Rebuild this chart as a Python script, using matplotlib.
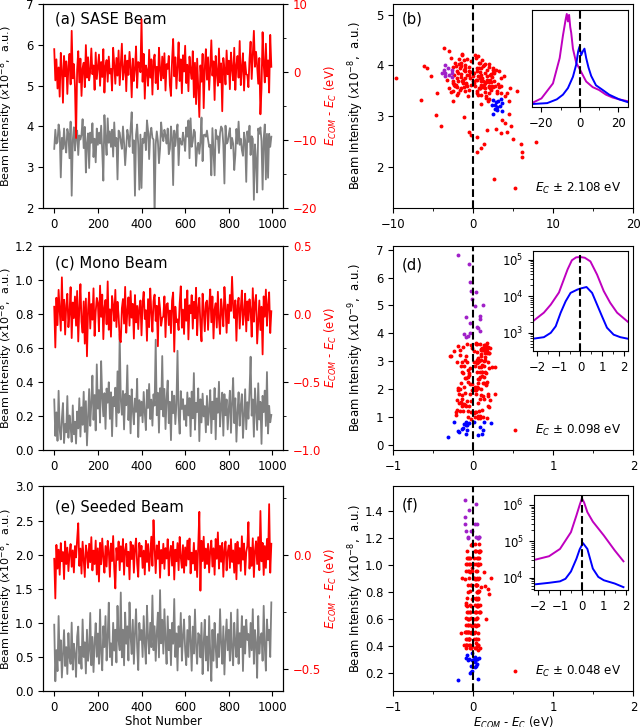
import numpy as np
import matplotlib.pyplot as plt
from matplotlib.ticker import MultipleLocator

# shot index (every 5th shot is plotted)
shots = np.arange(0, 1000, 5)

# SASE beam: E_COM - E_C (eV) and intensity (x1e-8)
sase_e = [3.4, -1.2, 1.9, -2.4, 0.7, -3.6, 2.85, 0.3, -4.5, 2.4, -0.6, 1.6, -3.2, 0.9, 2.7, -1.8, 6.1, -0.9, 1.2, -2.1,
          -9.7, 0.4, 3.1, -1.5, 2.0, -3.5, 0.6, 1.4, -2.2, 4.0, -0.8, 2.2, -1.2, 0.1, 3.5, -0.3, 1.0, -2.6, 2.9, -1.0,
          0.8, 2.6, -2.0, 1.5, -0.7, 3.4, -3.0, 0.9, 1.8, -1.4, 2.3, -0.2, 0.5, -2.7, 3.6, 1.1, -1.7, 2.1, -0.5, 3.2,
          -1.9, 1.3, 4.2, -1.1, 0.2, 2.5, -2.8, 1.7, -0.4, 3.0, 0.7, -3.7, 2.0, -1.3, 0.5, 3.8, -2.3, 1.5, 1.3, 0.0,
          7.8, -1.4, 2.7, -3.9, 1.0, 0.3, -2.0, 3.3, -0.8, 1.9, -3.3, 1.6, 2.6, -1.6, 0.8, -2.5, 3.6, 0.4, -1.2, 2.3,
          -0.9, 2.8, -2.7, 1.2, 0.5, 2.4, -1.9, -3.5, 1.7, 4.9, -0.6, 2.2, -2.4, 0.8, 4.4, -1.3, 1.9, -3.1, 2.5, 0.1,
          3.9, -1.6, 1.1, -2.8, 2.3, 0.2, -1.0, 3.1, -3.7, 1.4, -4.7, 2.0, -2.3, -6.6, 1.0, -1.4, 2.7, -5.3, 0.6, 3.4,
          -1.1, 2.2, -2.6, 0.7, 4.7, -0.5, 1.6, -4.1, 2.4, 0.0, -2.0, 3.5, -1.5, 1.3, -5.75, 2.1, 0.4, -1.8, 3.2, -0.3,
          1.7, -2.5, 2.9, 0.5, -1.2, 3.6, -2.6, 1.0, 2.4, -0.8, 4.6, -1.9, 0.6, 2.8, -2.7, 1.5, -0.3, -0.4, -2.2, 2.0,
          4.5, -1.0, 2.6, 6.1, 0.8, 3.0, 0.9, -1.7, 2.1, -6.2, -2.4, 5.9, 1.2, -1.5, 4.2, -0.6, 1.75, -3.0, 5.5, 0.8]
sase_i = [3.45, 3.92, 3.58, 3.62, 4.05, 3.86, 2.75, 3.72, 3.45, 3.95, 3.52, 3.36, 3.94, 3.81, 3.22, 4.12, 2.30, 3.66, 3.98, 3.41,
          3.76, 3.90, 3.30, 3.78, 3.68, 3.80, 4.18, 3.47, 3.99, 2.87, 3.60, 3.83, 2.98, 3.85, 3.60, 4.08, 3.25, 3.70, 3.12, 3.95,
          3.55, 3.85, 3.58, 4.02, 3.40, 2.67, 4.28, 3.70, 3.30, 4.20, 3.60, 3.88, 3.50, 3.92, 3.26, 4.10, 3.52, 3.72, 2.70, 3.90,
          3.85, 3.62, 3.45, 4.00, 3.60, 3.05, 3.48, 3.92, 3.75, 3.50, 3.95, 4.35, 3.35, 3.66, 2.30, 3.80, 4.05, 3.55, 2.45, 3.80,
          2.49, 3.70, 3.60, 3.85, 3.42, 4.15, 3.90, 3.20, 3.82, 3.97, 3.72, 3.68, 1.76, 3.56, 3.88, 3.65, 3.10, 3.45, 4.10, 3.78,
          3.64, 3.92, 3.78, 3.58, 3.95, 3.32, 3.45, 4.00, 3.72, 2.56, 3.90, 3.52, 3.82, 4.05, 3.05, 3.71, 3.60, 3.55, 3.85, 3.66,
          3.40, 3.98, 3.75, 4.15, 3.22, 4.20, 3.50, 3.64, 3.92, 3.86, 3.03, 3.45, 3.60, 3.33, 3.62, 4.22, 3.15, 3.79, 3.80, 3.75,
          3.90, 3.68, 3.50, 3.55, 2.80, 3.96, 3.40, 2.80, 3.92, 3.70, 3.76, 3.35, 3.84, 4.00, 3.95, 3.55, 2.60, 4.02, 3.58, 3.62,
          3.80, 3.96, 3.46, 3.72, 3.58, 2.93, 3.30, 3.94, 3.58, 4.12, 3.55, 3.70, 3.42, 3.28, 3.85, 3.66, 2.64, 3.88, 3.62, 4.02,
          3.30, 3.76, 3.70, 2.20, 3.56, 3.18, 2.38, 3.95, 3.82, 3.98, 3.64, 2.45, 3.70, 4.05, 2.70, 3.82, 2.74, 3.82, 3.50, 3.75]

# Mono beam: E_COM - E_C (eV) and intensity (x1e-8)
mono_e = [0.052, -0.247, 0.118, -0.083, 0.176, 0.021, -0.124, 0.268, -0.047, 0.103, -0.152, 0.064, 0.147, -0.098, 0.006, 0.196, -0.178, 0.083, -0.031, 0.127,
          -0.087, 0.168, -0.203, 0.042, 0.218, -0.058, -0.138, 0.091, -0.219, 0.112, -0.312, 0.029, 0.157, -0.108, 0.072, -0.043, 0.187, -0.162, 0.014, 0.117,
          0.079, -0.128, 0.207, -0.022, 0.141, -0.186, 0.048, 0.102, -0.077, 0.238, -0.117, 0.033, -0.168, 0.131, 0.061, -0.053, 0.176, -0.097, 0.088, -0.012,
          -0.188, -0.208, 0.041, 0.109, -0.072, 0.198, -0.139, 0.018, 0.121, -0.087, 0.167, -0.028, 0.073, -0.182, 0.138, -0.063, 0.058, -0.112, 0.047, 0.098,
          -0.158, 0.082, 0.161, -0.038, 0.027, -0.198, 0.108, -0.098, 0.186, 0.012, -0.131, 0.093, 0.141, -0.052, 0.059, -0.238, 0.119, 0.038, -0.088, -0.028,
          -0.021, 0.128, -0.171, 0.069, 0.078, -0.083, 0.024, -0.142, 0.098, 0.157, -0.278, 0.052, -0.061, -0.041, -0.119, 0.079, 0.202, -0.102, 0.031, -0.148,
          0.108, -0.051, 0.172, -0.188, 0.063, 0.004, 0.137, -0.109, 0.088, -0.032, 0.191, -0.157, 0.041, 0.118, -0.079, -0.202, 0.148, 0.022, -0.128, 0.081,
          0.097, -0.118, 0.053, 0.179, -0.062, 0.127, -0.181, 0.032, 0.078, -0.101, 0.162, -0.042, -0.148, 0.108, 0.013, -0.092, 0.197, 0.057, -0.139, 0.068,
          -0.069, 0.138, 0.021, 0.272, 0.048, -0.031, 0.099, -0.198, 0.062, 0.118, -0.108, 0.043, 0.171, -0.081, 0.003, 0.148, -0.129, 0.091, -0.048, 0.107,
          0.028, -0.168, 0.188, -0.058, 0.079, 0.139, -0.218, -0.062, 0.098, -0.119, 0.052, -0.298, 0.128, -0.021, 0.178, -0.088, 0.061, 0.158, -0.141, 0.019]
mono_i = [0.297, 0.083, 0.221, 0.054, 0.348, 0.118, 0.062, 0.184, 0.276, 0.041, 0.153, 0.104, 0.317, 0.072, 0.203, 0.137, 0.048, 0.262, 0.093, 0.166,
          0.038, 0.226, 0.127, 0.304, 0.079, 0.251, 0.148, 0.342, 0.106, 0.287, 0.027, 0.196, 0.358, 0.142, 0.281, 0.437, 0.177, 0.323, 0.115, 0.503,
          0.243, 0.352, 0.161, 0.522, 0.306, 0.198, 0.334, 0.124, 0.361, 0.278, 0.398, 0.183, 0.339, 0.081, 0.312, 0.257, 0.366, 0.139, 0.462, 0.218,
          0.681, 0.296, 0.207, 0.347, 0.121, 0.329, 0.263, 0.497, 0.176, 0.318, 0.098, 0.357, 0.238, 0.151, 0.302, 0.224, 0.418, 0.076, 0.293, 0.201,
          0.284, 0.163, 0.341, 0.219, 0.117, 0.353, 0.247, 0.388, 0.182, 0.296, 0.143, 0.327, 0.261, 0.648, 0.204, 0.336, 0.102, 0.363, 0.239, 0.552,
          0.197, 0.359, 0.123, 0.301, 0.408, 0.158, 0.283, 0.058, 0.344, 0.216, 0.319, 0.152, 0.268, 0.583, 0.207, 0.096, 0.346, 0.241, 0.299, 0.178,
          0.262, 0.141, 0.338, 0.203, 0.305, 0.081, 0.343, 0.186, 0.452, 0.119, 0.277, 0.223, 0.362, 0.052, 0.298, 0.162, 0.331, 0.197, 0.258, 0.104,
          0.318, 0.147, 0.236, 0.352, 0.099, 0.284, 0.181, 0.364, 0.063, 0.303, 0.219, 0.401, 0.138, 0.262, 0.337, 0.084, 0.328, 0.204, 0.297, 0.121,
          0.242, 0.348, 0.101, 0.279, 0.423, 0.158, 0.304, 0.049, 0.221, 0.339, 0.143, 0.263, 0.328, 0.071, 0.199, 0.357, 0.122, 0.281, 0.184, 0.342,
          0.548, 0.202, 0.297, 0.078, 0.362, 0.244, 0.118, 0.392, 0.179, 0.283, 0.036, 0.318, 0.223, 0.349, 0.141, 0.458, 0.097, 0.259, 0.163, 0.206]

# Seeded beam: E_COM - E_C (eV) and intensity (x1e-8)
seed_e = [-0.018, -0.192, 0.043, -0.061, 0.022, -0.088, 0.051, -0.029, 0.012, -0.107, 0.058, -0.041, 0.031, -0.072, 0.004, 0.047, -0.053, 0.019, -0.078, 0.038,
          -0.012, 0.068, 0.138, -0.049, 0.027, -0.083, 0.057, -0.022, -0.098, 0.041, 0.009, -0.058, 0.048, -0.033, 0.077, -0.069, 0.018, -0.041, 0.062, -0.087,
          0.028, -0.118, 0.052, -0.042, 0.071, -0.011, -0.079, 0.038, -0.052, 0.061, 0.017, -0.097, 0.049, -0.028, 0.082, -0.062, -0.148, 0.029, -0.023, 0.058,
          -0.068, 0.037, -0.031, 0.069, -0.088, 0.021, 0.048, -0.051, 0.013, -0.108, 0.057, -0.019, 0.042, -0.079, 0.028, 0.071, -0.039, -0.097, 0.052, -0.008,
          0.039, -0.058, 0.018, -0.087, 0.061, -0.032, 0.047, -0.071, 0.008, 0.079, -0.049, 0.152, 0.027, -0.081, 0.041, -0.018, 0.058, -0.101, 0.021, -0.038,
          0.048, -0.062, 0.029, -0.017, 0.068, -0.091, 0.011, 0.039, -0.048, 0.057, -0.109, 0.022, -0.029, 0.051, -0.068, 0.078, -0.012, -0.058, 0.042, -0.079,
          0.032, -0.048, 0.062, -0.021, 0.071, -0.082, 0.009, -0.039, 0.052, -0.068, 0.018, -0.098, 0.038, 0.188, -0.158, 0.061, -0.028, 0.079, -0.059, 0.027,
          -0.041, 0.048, -0.078, 0.019, 0.062, -0.052, 0.028, -0.088, 0.069, -0.018, 0.098, -0.061, 0.039, -0.031, 0.052, -0.097, 0.021, 0.058, -0.069, 0.011,
          0.041, -0.058, 0.068, -0.032, 0.019, -0.079, 0.048, -0.108, 0.057, -0.039, 0.029, -0.071, 0.081, -0.022, 0.049, -0.088, 0.012, 0.038, 0.143, -0.061,
          0.031, -0.049, 0.072, -0.098, 0.018, 0.059, -0.041, 0.077, -0.068, 0.192, -0.029, 0.052, -0.089, 0.038, -0.058, 0.069, -0.021, 0.222, -0.079, 0.048]
seed_i = [0.976, 0.148, 0.604, 0.297, 1.103, 0.452, 0.748, 0.203, 0.556, 0.897, 0.371, 0.648, 0.254, 0.853, 0.497, 0.402, 1.006, 0.318, 0.697, 0.548,
          0.212, 0.804, 0.948, 0.407, 0.652, 0.331, 1.052, 0.503, 0.718, 0.262, 0.902, 0.447, 0.603, 1.148, 0.382, 0.797, 0.283, 0.702, 0.998, 0.506,
          0.847, 0.403, 1.197, 0.552, 0.308, 0.953, 0.648, 1.102, 0.451, 0.798, 1.298, 0.502, 0.703, 0.384, 1.003, 0.597, 0.902, 0.423, 1.252, 0.748,
          0.602, 1.447, 0.498, 0.903, 0.381, 1.153, 0.697, 0.952, 0.452, 1.302, 0.803, 0.547, 1.048, 0.403, 0.852, 1.203, 0.652, 0.312, 1.002, 0.753,
          0.898, 0.503, 1.102, 0.702, 0.404, 1.253, 0.798, 0.552, 1.003, 0.648, 1.403, 0.602, 0.953, 0.447, 0.853, 1.152, 0.497, 1.482, 0.703, 1.048,
          0.552, 1.203, 0.748, 0.402, 1.098, 0.603, 0.902, 0.383, 1.002, 0.697, 1.352, 0.503, 0.848, 0.306, 0.953, 0.652, 1.148, 0.448, 0.802, 1.052,
          0.602, 0.384, 0.898, 0.503, 1.103, 0.752, 0.302, 0.948, 0.553, 1.198, 0.652, 0.403, 0.852, 0.823, 0.497, 1.003, 0.253, 0.703, 1.048, 0.452,
          0.803, 0.302, 1.102, 0.553, 0.152, 0.902, 0.448, 1.003, 0.652, 0.348, 0.838, 0.502, 1.203, 0.698, 0.403, 0.952, 0.247, 0.753, 1.052, 0.602,
          0.902, 0.448, 1.152, 0.603, 0.382, 1.003, 0.698, 0.502, 1.198, 0.403, 0.852, 0.648, 1.102, 0.298, 0.952, 0.553, 1.048, 0.752, 0.841, 0.503,
          1.002, 0.602, 1.203, 0.403, 0.898, 0.702, 0.198, 1.103, 0.552, 0.782, 0.852, 0.448, 1.252, 0.652, 0.303, 1.052, 0.748, 0.902, 0.503, 1.302]

# inset spectra
b_x_m = [-25, -20, -14, -10.5, -8.8, -7.4, -6.8, -6.2, -5.6, -5.0, -4.5, -3.6, -1.9, 0, 1.5, 3.3, 6.7, 10, 13.6, 17, 20.5, 25]
b_y_m = [0.04, 0.09, 0.25, 0.52, 0.76, 0.93, 0.99, 0.91, 0.98, 0.85, 0.79, 0.62, 0.47, 0.40, 0.34, 0.27, 0.21, 0.18, 0.13, 0.10, 0.08, 0.06]
b_x_b = [-25, -17, -12, -8.8, -6.2, -3.6, -1.9, -0.9, -0.2, 0.7, 1.5, 2.4, 3.3, 4.5, 5.9, 8.4, 11.9, 15.3, 20.5, 25]
b_y_b = [0.03, 0.04, 0.08, 0.13, 0.20, 0.32, 0.45, 0.59, 0.64, 0.55, 0.59, 0.62, 0.52, 0.42, 0.33, 0.23, 0.18, 0.13, 0.08, 0.05]

d_x_m = [-2.2, -1.7, -1.38, -1.0, -0.6, -0.4, -0.2, 0.0, 0.2, 0.46, 0.77, 1.08, 1.38, 1.7, 2.2]
d_y_m = [2090, 3550, 5890, 12600, 53700, 95500, 115000, 117000, 112000, 89100, 38900, 13800, 6610, 3550, 2000]
d_x_b = [-2.2, -1.7, -1.38, -1.15, -0.92, -0.69, -0.46, -0.15, 0.0, 0.28, 0.54, 0.77, 1.0, 1.23, 1.54, 1.85, 2.2]
d_y_b = [690, 760, 1000, 1510, 3550, 7240, 12300, 15100, 16200, 17800, 12300, 5890, 2820, 1380, 890, 760, 690]

f_x_m = [-2.1, -1.5, -1.0, -0.5, -0.25, -0.1, 0.0, 0.1, 0.25, 0.5, 1.0, 1.5, 1.9]
f_y_m = [31600, 38900, 61700, 178000, 513000, 1000000, 1510000, 1170000, 631000, 347000, 145000, 56200, 28200]
f_x_b = [-2.1, -1.5, -1.0, -0.75, -0.5, -0.25, -0.1, 0.05, 0.25, 0.5, 0.75, 1.0, 1.5, 1.9]
f_y_b = [6610, 7240, 7940, 9330, 14800, 33100, 60300, 89100, 61700, 17800, 10500, 8510, 6920, 5500]

PURPLE = '#a020c8'
plt.rcParams['font.size'] = 8.4

fig = plt.figure(figsize=(6.4, 7.27), dpi=100)
rows = [(0.714, 0.28), (0.381, 0.281), (0.049, 0.282)]
ecom_label = r'$E_{COM}$ - $E_C$ (eV)'
LABEL_FS = 8.4
TAG_FS = 10.6


def time_panel(row, inten, ecom, ilim, elim, emajor, title, ty, xlabel=False):
    ax = fig.add_axes([0.0677, row[0], 0.375, row[1]])
    ax.plot(shots, inten, color='gray', lw=1.3)
    ax.set_ylim(ilim)
    ax.set_xlim(-50, 1050)
    ax.xaxis.set_major_locator(MultipleLocator(200))
    ax.set_ylabel(r'Beam Intensity ($x10^{-8}$,  a.u.)', fontsize=8.0)
    ax.yaxis.set_label_coords(-0.116, 0.5)
    ax.text(0.05, ty, title, transform=ax.transAxes, fontsize=TAG_FS, va='center')
    ax2 = ax.twinx()
    ax2.plot(shots, ecom, color='r', lw=1.3)
    ax2.set_ylim(elim)
    ax2.yaxis.set_major_locator(MultipleLocator(emajor))
    ax2.yaxis.set_minor_locator(MultipleLocator(emajor / 2))
    ax2.tick_params(axis='y', labelcolor='r')
    ax2.set_ylabel(ecom_label, color='r', fontsize=LABEL_FS)
    ax2.yaxis.set_label_coords(1.165, 0.5)
    if xlabel:
        ax.set_xlabel('Shot Number', fontsize=LABEL_FS, labelpad=0.5)
    return ax


def scatter_panel(row, xs, ys, purple, blue, xlim, ylim, xmajor, ymajor, power, tag, ty, ec_text):
    ax = fig.add_axes([0.6146, row[0], 0.375, row[1]])
    xs = np.array(xs)
    ys = np.array(ys)
    red = ~(purple | blue)
    ax.plot(xs[red], ys[red], 'o', color='r', ms=2.8, mew=0, label=ec_text)
    ax.plot(xs[purple], ys[purple], 'o', color=PURPLE, ms=2.8, mew=0)
    ax.plot(xs[blue], ys[blue], 'o', color='b', ms=2.8, mew=0)
    ax.axvline(0, color='k', ls='--', lw=1.5, zorder=3)
    ax.set_xlim(xlim)
    ax.set_ylim(ylim)
    ax.xaxis.set_major_locator(MultipleLocator(xmajor))
    ax.xaxis.set_minor_locator(MultipleLocator(xmajor / 2))
    ax.yaxis.set_major_locator(MultipleLocator(ymajor))
    ax.set_ylabel(r'Beam Intensity ($x10^{-%d}$,  a.u.)' % power, fontsize=LABEL_FS)
    ax.yaxis.set_label_coords(-0.114, 0.5)
    ax.text(0.035, ty, tag, transform=ax.transAxes, fontsize=TAG_FS, va='center')
    ax.legend(loc='lower right', frameon=False, handlelength=1.0, handletextpad=1.2,
              borderaxespad=0.6, fontsize=8.6)
    return ax


def inset(rect, xm, ym, xb, yb, xlim, ylim, log=True):
    ax = fig.add_axes(rect)
    ax.plot(xm, ym, color='m', lw=1.4)
    ax.plot(xb, yb, color='b', lw=1.4)
    ax.axvline(0, color='k', ls='--', lw=1.5)
    ax.set_xlim(xlim)
    if log:
        ax.set_yscale('log')
    ax.set_ylim(ylim)
    return ax


# (a) / (b)
time_panel(rows[0], sase_i, sase_e, (2, 7), (-20, 10), 10, '(a) SASE Beam', 0.926)
se = np.array(sase_e)
si = np.array(sase_i)
p_b = (se > -4.2) & (se < -2.5) & (si > 3.74) & (si < 4.02)
b_b = (se > 2.0) & (se < 3.85) & (si > 3.0) & (si < 3.4)
scatter_panel(rows[0], se, si, p_b, b_b, (-10, 20), (1.2, 5.2), 10, 1, 8, '(b)', 0.926,
              r'$E_C$ ± 2.108 eV')
ins = inset([0.831, 0.853, 0.150, 0.133], b_x_m, b_y_m, b_x_b, b_y_b, (-25, 25), (0, 1.03), log=False)
ins.set_yticks([])
ins.set_xticks([-20, 0, 20])
ins.xaxis.set_minor_locator(MultipleLocator(10))

# (c) / (d)
time_panel(rows[1], mono_i, mono_e, (0, 1.2), (-1, 0.5), 0.5, '(c) Mono Beam', 0.917)
mi = np.array(mono_i) * 10
scatter_panel(rows[1], mono_e, mi, mi > 3.7, mi < 0.9, (-1, 2), (-0.18, 7.14), 1, 1, 9, '(d)', 0.907,
              r'$E_C$ ± 0.098 eV')
ins = inset([0.833, 0.517, 0.148, 0.1376], d_x_m, d_y_m, d_x_b, d_y_b, (-2.2, 2.2), (316, 1.7e5))
ins.set_xticks([-2, -1, 0, 1, 2])
ins.xaxis.set_minor_locator(MultipleLocator(0.5))

# (e) / (f)
ax_e = time_panel(rows[2], seed_i, seed_e, (0, 3.0), (-0.6, 0.3), 0.5, '(e) Seeded Beam', 0.9, xlabel=True)
ax_e.yaxis.set_major_locator(MultipleLocator(0.5))
sdi = np.array(seed_i)
ax_f = scatter_panel(rows[2], seed_e, sdi, sdi > 1.18, sdi < 0.36, (-1, 2), (0.063, 1.58), 1, 0.2, 8, '(f)', 0.91,
                     r'$E_C$ ± 0.048 eV')
ax_f.set_xlabel(ecom_label, fontsize=LABEL_FS, labelpad=0.5)
ins = inset([0.834, 0.188, 0.147, 0.1315], f_x_m, f_y_m, f_x_b, f_y_b, (-2.2, 2.1), (4.5e3, 1.9e6))
ins.set_xticks([-2, -1, 0, 1, 2])
ins.xaxis.set_minor_locator(MultipleLocator(0.5))

fig.savefig('out.png', dpi=100)
